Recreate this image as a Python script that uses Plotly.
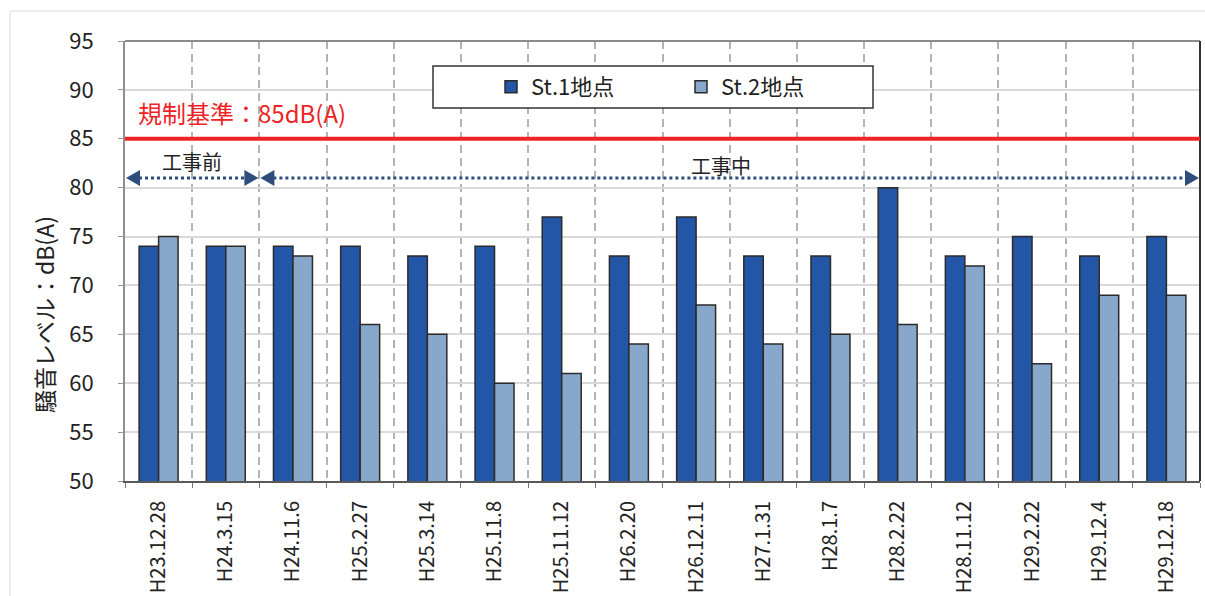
import plotly.graph_objects as go

# Survey dates (Heisei era) and noise levels dB(A)
dates = ["H23.12.28", "H24.3.15", "H24.11.6", "H25.2.27", "H25.3.14", "H25.11.8",
         "H25.11.12", "H26.2.20", "H26.12.11", "H27.1.31", "H28.1.7", "H28.2.22",
         "H28.11.12", "H29.2.22", "H29.12.4", "H29.12.18"]
st1 = [74, 74, 74, 74, 73, 74, 77, 73, 77, 73, 73, 80, 73, 75, 73, 75]
st2 = [75, 74, 73, 66, 65, 60, 61, 64, 68, 64, 65, 66, 72, 62, 69, 69]
series_names = ["St.1地点", "St.2地点"]
limit_value = 85
limit_label = "規制基準：85dB(A)"
y_title = "騒音レベル：dB(A)"
y_ticks = list(range(50, 96, 5))

W, H = 1205, 596
ML, MR, MT, MB = 125, 5, 41, 115
PW, PH = W - ML - MR, H - MT - MB
JP = "Noto Sans CJK JP"


def px(xp):
    return (xp - ML) / PW


def py(yp):
    return (H - MB - yp) / PH


xs = list(range(len(dates)))
line_col = "#2b2b2b"
arrow_col = "#2d4d7c"

fig = go.Figure()
fig.add_trace(go.Bar(x=xs, y=st1, name=series_names[0], marker=dict(color="#2356a6", line=dict(color=line_col, width=1.5)), base=0))
fig.add_trace(go.Bar(x=xs, y=st2, name=series_names[1], marker=dict(color="#88a8cb", line=dict(color=line_col, width=1.5)), base=0))

shapes = []
# outer frame
shapes.append(dict(type="rect", xref="paper", yref="paper", x0=px(10), x1=px(1215), y0=py(11), y1=py(620),
                   line=dict(color="#d9d9d9", width=1), layer="below"))
# plot border top / right
shapes.append(dict(type="line", xref="paper", yref="paper", x0=0, x1=1, y0=1, y1=1, line=dict(color="#8c8c8c", width=2)))
shapes.append(dict(type="line", xref="paper", yref="paper", x0=1, x1=1, y0=0, y1=1, line=dict(color="#333333", width=2)))
# regulatory limit
shapes.append(dict(type="line", xref="paper", yref="y", x0=0, x1=1, y0=limit_value, y1=limit_value,
                   line=dict(color="#ee2326", width=4)))

# period arrows (dotted shafts + triangular heads)
arrow_y = 81
periods = [(-0.5, 1.5), (1.5, 15.5)]
for a, b in periods:
    shapes.append(dict(type="line", xref="x", yref="y", x0=a + 14 / 67.2, x1=b - 14 / 67.2, y0=arrow_y, y1=arrow_y,
                       line=dict(color=arrow_col, width=3, dash="dot")))
    shapes.append(dict(type="path", xref="x", yref="y", xsizemode="pixel", ysizemode="pixel",
                       xanchor=a, yanchor=arrow_y, path="M1,0 L15,-8 L15,8 Z",
                       fillcolor=arrow_col, line=dict(width=0)))
    shapes.append(dict(type="path", xref="x", yref="y", xsizemode="pixel", ysizemode="pixel",
                       xanchor=b, yanchor=arrow_y, path="M-1,0 L-15,-8 L-15,8 Z",
                       fillcolor=arrow_col, line=dict(width=0)))

# legend frame
shapes.append(dict(type="rect", xref="paper", yref="paper", x0=px(433), x1=px(873), y0=py(108), y1=py(66),
                   fillcolor="white", line=dict(color="#333333", width=1.5), layer="above"))

annotations = [
    dict(text=limit_label, xref="paper", yref="paper", x=px(136), y=py(112), xanchor="left", yanchor="middle",
         showarrow=False, font=dict(family=JP, size=24, color="#ee2326")),
    dict(text="工事前", xref="x", yref="paper", x=0.5, y=py(161), xanchor="center", yanchor="middle",
         showarrow=False, font=dict(family=JP, size=20, color="#222222")),
    dict(text="工事中", xref="x", yref="paper", x=8.37, y=py(165), xanchor="center", yanchor="middle",
         showarrow=False, font=dict(family=JP, size=20, color="#222222")),
    dict(text=y_title, xref="paper", yref="paper", x=px(44), y=py(315), xanchor="center", yanchor="middle",
         textangle=-90, showarrow=False, font=dict(family=JP, size=23, color="#222222")),
]

fig.update_layout(
    width=W, height=H,
    margin=dict(l=ML, r=MR, t=MT, b=MB, pad=0, autoexpand=False),
    paper_bgcolor="white", plot_bgcolor="white",
    barmode="group", bargap=0.42, bargroupgap=0,
    font=dict(family=JP, color="#222222"),
    shapes=shapes, annotations=annotations,
    showlegend=True,
    legend=dict(orientation="h", x=px(491), y=py(87), xanchor="left", yanchor="middle",
                bgcolor="rgba(0,0,0,0)", borderwidth=0, font=dict(family=JP, size=22, color="#222222"),
                entrywidth=145, entrywidthmode="pixels", traceorder="normal"),
)

fig.update_xaxes(
    range=[-0.5, 15.5], tickmode="array", tickvals=xs, ticktext=dates, tickangle=-90, automargin=False,
    tickfont=dict(family=JP, size=20, color="#222222"), ticks="", showgrid=False,
    showline=True, linecolor="#595959", linewidth=2, zeroline=False, ticklabelstandoff=10,
    minor=dict(tickmode="linear", tick0=-0.5, dtick=1, ticks="outside", ticklen=5, tickcolor="#777777",
               showgrid=True, gridcolor="#b3b3b3", gridwidth=1.5, griddash="8px,5px"),
)
fig.update_yaxes(
    range=[50, 95], tickvals=y_ticks, tickfont=dict(family=JP, size=22, color="#222222"), automargin=False,
    ticks="outside", ticklen=5, tickcolor="#999999", showgrid=True, gridcolor="#d9d9d9", gridwidth=1.5,
    showline=True, linecolor="#909090", linewidth=2, zeroline=False, ticklabelstandoff=20,
)

fig.write_html("out.html")
